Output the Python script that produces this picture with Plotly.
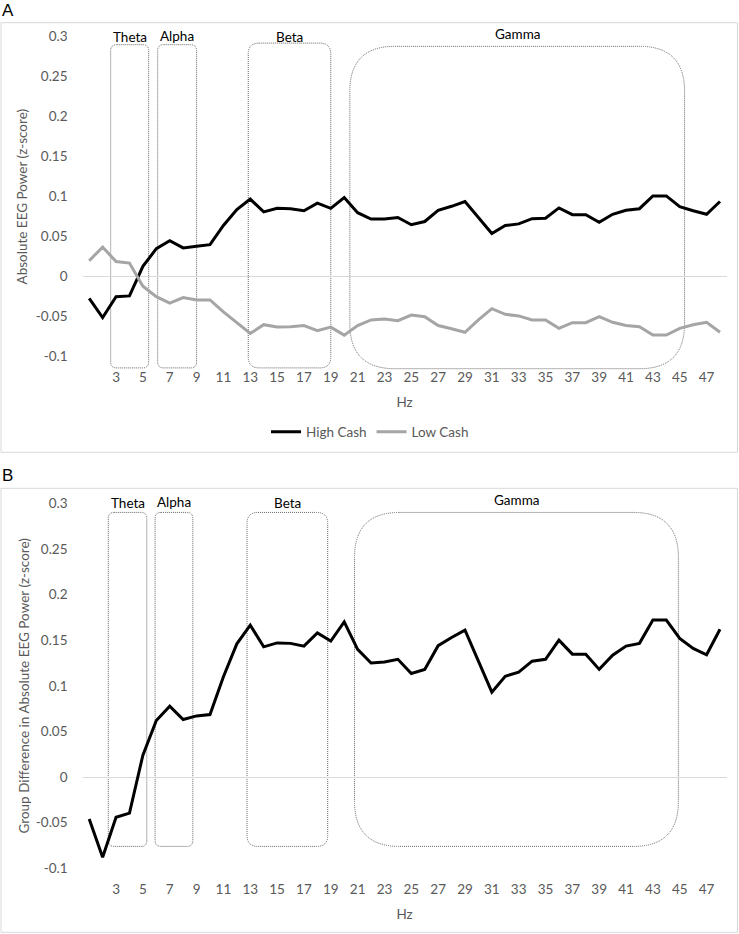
import plotly.graph_objects as go

# ---------------- data ----------------
hz = list(range(1, 49))

high_cash = [-0.027, -0.051, -0.025, -0.024, 0.013, 0.035, 0.045, 0.036, 0.038, 0.040,
             0.064, 0.084, 0.097, 0.081, 0.0855, 0.085, 0.0825, 0.092, 0.0855, 0.099,
             0.080, 0.072, 0.072, 0.074, 0.065, 0.069, 0.083, 0.088, 0.094, 0.074,
             0.054, 0.064, 0.066, 0.0725, 0.073, 0.086, 0.0775, 0.0775, 0.068, 0.078,
             0.083, 0.085, 0.101, 0.101, 0.0875, 0.0825, 0.078, 0.094]

low_cash = [0.020, 0.037, 0.019, 0.017, -0.012, -0.025, -0.033, -0.026, -0.029, -0.029,
            -0.044, -0.058, -0.071, -0.060, -0.063, -0.0625, -0.061, -0.0675, -0.063, -0.073,
            -0.061, -0.054, -0.053, -0.055, -0.048, -0.050, -0.061, -0.065, -0.0695, -0.054,
            -0.040, -0.047, -0.049, -0.054, -0.054, -0.0645, -0.0575, -0.0575, -0.050, -0.057,
            -0.061, -0.0625, -0.073, -0.073, -0.0645, -0.060, -0.057, -0.0695]

group_diff = [-0.046, -0.088, -0.044, -0.0395, 0.024, 0.062, 0.0776, 0.063, 0.067, 0.0685,
              0.110, 0.146, 0.1665, 0.1427, 0.147, 0.1465, 0.1435, 0.158, 0.149, 0.170,
              0.140, 0.125, 0.126, 0.129, 0.1135, 0.118, 0.144, 0.153, 0.161, 0.127,
              0.093, 0.1105, 0.115, 0.127, 0.129, 0.150, 0.1347, 0.1347, 0.118, 0.1335,
              0.1435, 0.1465, 0.172, 0.172, 0.152, 0.141, 0.134, 0.162]

x_tickvals = list(range(3, 48, 2))
x_ticktext = [str(v) for v in x_tickvals]
y_tickvals = [-0.1, -0.05, 0, 0.05, 0.1, 0.15, 0.2, 0.25, 0.3]
y_ticktext = ["-0.1", "-0.05", "0", "0.05", "0.1", "0.15", "0.2", "0.25", "0.3"]

band_names = ["Theta", "Alpha", "Beta", "Gamma"]
# band box extents (Hz, z-score) for each panel
bands_a_x0 = [2.6, 6.1, 12.85, 20.42]
bands_a_x1 = [5.43, 9.0, 19.0, 45.36]
bands_a_y0 = [-0.114, -0.114, -0.114, -0.115]
bands_a_y1 = [0.290, 0.290, 0.292, 0.288]
bands_b_x0 = [2.42, 5.91, 12.76, 20.77]
bands_b_x1 = [5.29, 8.72, 18.77, 44.9]
bands_b_y0 = [-0.076, -0.076, -0.076, -0.076]
bands_b_y1 = [0.290, 0.290, 0.290, 0.290]
band_radius_px = [6, 6, 11, 45]
band_label_lift_px = [0, 1, 0, 3]

# ---------------- layout geometry ----------------
W, H = 739, 934


def px_x(v):
    return v / W


def px_y(v):
    return 1 - v / H


YMIN, YMAX = -0.1, 0.3
XMIN, XMAX = 0.5, 48.5
x_dom = [px_x(82.5), px_x(726.7)]
ya_dom = [px_y(356.7), px_y(36.7)]
yb_dom = [px_y(868.3), px_y(503.3)]

FONT = "Lato, 'Open Sans', sans-serif"
GRAY_TXT = "#595959"
FS = 13.5

fig = go.Figure()
fig.add_trace(go.Scatter(x=hz, y=high_cash, mode="lines", name="High Cash",
                         line=dict(color="#000000", width=3), xaxis="x", yaxis="y"))
fig.add_trace(go.Scatter(x=hz, y=low_cash, mode="lines", name="Low Cash",
                         line=dict(color="#a5a5a5", width=3), xaxis="x", yaxis="y"))
fig.add_trace(go.Scatter(x=hz, y=group_diff, mode="lines", name="Group Difference",
                         showlegend=False,
                         line=dict(color="#000000", width=3), xaxis="x2", yaxis="y2"))


def rounded_path(x0, x1, y0, y1, rx, ry):
    return (f"M {x0 + rx},{y1} L {x1 - rx},{y1} Q {x1},{y1} {x1},{y1 - ry} "
            f"L {x1},{y0 + ry} Q {x1},{y0} {x1 - rx},{y0} "
            f"L {x0 + rx},{y0} Q {x0},{y0} {x0},{y0 + ry} "
            f"L {x0},{y1 - ry} Q {x0},{y1} {x0 + rx},{y1} Z")


shapes = []
annotations = []


def add_bands(xref, yref, x0s, x1s, y0s, y1s, dom):
    plot_w = (x_dom[1] - x_dom[0]) * W
    plot_h = (dom[1] - dom[0]) * H
    px_per_x = plot_w / (XMAX - XMIN)
    for name, a, b, c, d, r, lift in zip(band_names, x0s, x1s, y0s, y1s,
                                         band_radius_px, band_label_lift_px):
        yc = (c - YMIN) / (YMAX - YMIN)
        yd = (d - YMIN) / (YMAX - YMIN)
        rx = r / px_per_x
        ry = r / plot_h
        shapes.append(dict(type="path", xref=xref, yref=yref + " domain",
                           path=rounded_path(a, b, yc, yd, rx, ry),
                           line=dict(color="#666666", width=1, dash="1px,1px"),
                           layer="below"))
        annotations.append(dict(text=name, x=(a + b) / 2, y=1.0 + lift / plot_h,
                                xref=xref, yref=yref + " domain", showarrow=False,
                                xanchor="center", yanchor="middle",
                                font=dict(family=FONT, size=FS, color="#000000")))


add_bands("x", "y", bands_a_x0, bands_a_x1, bands_a_y0, bands_a_y1, ya_dom)
add_bands("x2", "y2", bands_b_x0, bands_b_x1, bands_b_y0, bands_b_y1, yb_dom)

# panel frames
shapes.append(dict(type="rect", xref="paper", yref="paper", x0=px_x(1), x1=px_x(737.5),
                   y0=px_y(452.3), y1=px_y(22.7), line=dict(color="#d9d9d9", width=1)))
shapes.append(dict(type="rect", xref="paper", yref="paper", x0=px_x(1), x1=px_x(737.5),
                   y0=px_y(932.3), y1=px_y(488.3), line=dict(color="#d9d9d9", width=1)))

annotations.append(dict(text="A", x=0, y=px_y(11), xref="paper", yref="paper",
                        showarrow=False, xanchor="left", yanchor="middle",
                        font=dict(family="Liberation Sans, Arial, sans-serif", size=17, color="#000000")))
annotations.append(dict(text="B", x=0, y=px_y(476), xref="paper", yref="paper",
                        showarrow=False, xanchor="left", yanchor="middle",
                        font=dict(family="Liberation Sans, Arial, sans-serif", size=17, color="#000000")))

xaxis_common = dict(range=[XMIN, XMAX], domain=x_dom, tickmode="array",
                    tickvals=x_tickvals, ticktext=x_ticktext, showgrid=False,
                    zeroline=False, showline=False, ticks="", automargin=False,
                    tickfont=dict(family=FONT, size=FS, color=GRAY_TXT),
                    ticklabelstandoff=11,
                    title=dict(text="Hz", font=dict(family=FONT, size=FS, color=GRAY_TXT), standoff=13))
yaxis_common = dict(range=[YMIN, YMAX], tickmode="array", tickvals=y_tickvals,
                    ticktext=y_ticktext, showgrid=False, zeroline=True, automargin=False,
                    zerolinecolor="#d9d9d9", zerolinewidth=1, showline=False, ticks="",
                    tickfont=dict(family=FONT, size=FS, color=GRAY_TXT),
                    ticklabelstandoff=14)

fig.update_layout(
    width=W, height=H,
    margin=dict(l=0, r=0, t=0, b=0, autoexpand=False),
    paper_bgcolor="white", plot_bgcolor="white",
    font=dict(family=FONT, size=FS, color=GRAY_TXT),
    xaxis=dict(anchor="y", **xaxis_common),
    yaxis=dict(anchor="x", domain=ya_dom,
               title=dict(text="Absolute EEG Power (z-score)",
                          font=dict(family=FONT, size=FS, color=GRAY_TXT), standoff=5),
               **yaxis_common),
    xaxis2=dict(anchor="y2", **xaxis_common),
    yaxis2=dict(anchor="x2", domain=yb_dom,
                title=dict(text="Group Difference in Absolute EEG Power (z-score)",
                           font=dict(family=FONT, size=FS, color=GRAY_TXT), standoff=3),
                **yaxis_common),
    legend=dict(orientation="h", x=px_x(370), xanchor="center", y=px_y(432), yanchor="middle",
                font=dict(family=FONT, size=FS, color=GRAY_TXT), bgcolor="rgba(0,0,0,0)",
                itemwidth=30),
    shapes=shapes,
    annotations=annotations,
    showlegend=True,
)

# remove the browser's default 8px page margin so the figure sits at the window origin
fig.write_html("out.html", config={"displayModeBar": False},
               post_script="document.body.style.margin='0px';")
